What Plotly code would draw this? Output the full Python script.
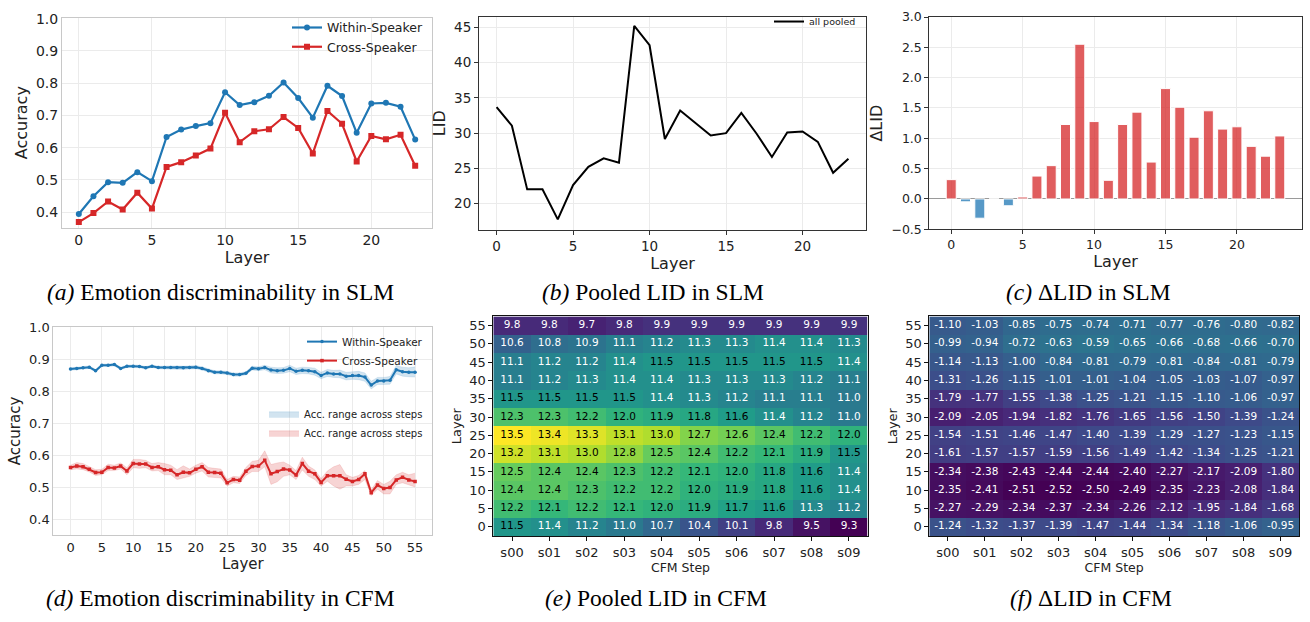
import plotly.graph_objects as go

# ---------------- data ----------------
layers_slm = list(range(24))
within_slm = [0.394, 0.449, 0.493, 0.491, 0.524, 0.496, 0.633, 0.656, 0.667, 0.676,
              0.772, 0.732, 0.741, 0.761, 0.802, 0.754, 0.693, 0.792, 0.760, 0.646,
              0.737, 0.739, 0.727, 0.625]
cross_slm = [0.369, 0.397, 0.433, 0.408, 0.460, 0.411, 0.540, 0.555, 0.576, 0.597,
             0.708, 0.617, 0.651, 0.657, 0.695, 0.661, 0.582, 0.714, 0.674, 0.557,
             0.636, 0.626, 0.640, 0.544]
lid_slm = [33.68, 31.04, 22.0, 22.0, 17.74, 22.6, 25.2, 26.4, 25.8, 45.2,
           42.46, 29.15, 33.2, 31.46, 29.66, 29.98, 32.85, 29.9, 26.6, 30.07,
           30.21, 28.74, 24.35, 26.34]
dlid_slm = [0.318, -0.048, -0.318, 0.0, -0.113, 0.032, 0.377, 0.549, 1.228, 2.552,
            1.276, 0.307, 1.228, 1.432, 0.608, 1.820, 1.513, 1.018, 1.454, 1.152,
            1.190, 0.867, 0.705, 1.039]

layers_cfm = list(range(56))
within_cfm = [0.870, 0.872, 0.874, 0.876, 0.865, 0.882, 0.882, 0.884, 0.872, 0.879,
              0.879, 0.878, 0.874, 0.879, 0.875, 0.875, 0.875, 0.875, 0.874, 0.875,
              0.876, 0.872, 0.865, 0.860, 0.860, 0.858, 0.853, 0.853, 0.857, 0.873,
              0.871, 0.875, 0.867, 0.865, 0.866, 0.872, 0.863, 0.866, 0.865, 0.862,
              0.850, 0.858, 0.855, 0.855, 0.848, 0.850, 0.850, 0.845, 0.820, 0.833,
              0.833, 0.835, 0.868, 0.862, 0.860, 0.860]
within_cfm_lo = [0.866, 0.868, 0.870, 0.872, 0.861, 0.878, 0.878, 0.880, 0.868, 0.875,
                 0.875, 0.874, 0.870, 0.875, 0.871, 0.870, 0.870, 0.870, 0.869, 0.870,
                 0.871, 0.867, 0.860, 0.855, 0.855, 0.853, 0.848, 0.848, 0.852, 0.867,
                 0.865, 0.868, 0.858, 0.856, 0.857, 0.862, 0.853, 0.856, 0.855, 0.851,
                 0.840, 0.847, 0.844, 0.843, 0.836, 0.838, 0.837, 0.832, 0.808, 0.822,
                 0.822, 0.823, 0.855, 0.848, 0.846, 0.845]
within_cfm_hi = [0.874, 0.876, 0.878, 0.880, 0.869, 0.886, 0.886, 0.888, 0.876, 0.883,
                 0.883, 0.882, 0.878, 0.883, 0.879, 0.880, 0.880, 0.880, 0.879, 0.880,
                 0.881, 0.877, 0.870, 0.865, 0.865, 0.863, 0.858, 0.858, 0.862, 0.879,
                 0.877, 0.882, 0.876, 0.874, 0.875, 0.882, 0.873, 0.876, 0.875, 0.873,
                 0.860, 0.869, 0.866, 0.867, 0.860, 0.862, 0.863, 0.858, 0.832, 0.844,
                 0.844, 0.847, 0.881, 0.876, 0.874, 0.877]
cross_cfm = [0.563, 0.567, 0.565, 0.557, 0.547, 0.548, 0.563, 0.561, 0.567, 0.552,
             0.575, 0.574, 0.574, 0.563, 0.565, 0.556, 0.554, 0.540, 0.548, 0.546,
             0.557, 0.565, 0.548, 0.547, 0.545, 0.515, 0.525, 0.523, 0.551, 0.566,
             0.567, 0.585, 0.543, 0.550, 0.558, 0.555, 0.539, 0.575, 0.551, 0.543,
             0.516, 0.537, 0.537, 0.537, 0.526, 0.519, 0.525, 0.543, 0.484, 0.508,
             0.497, 0.500, 0.524, 0.532, 0.524, 0.519]
cross_cfm_lo = [0.556, 0.558, 0.556, 0.549, 0.538, 0.540, 0.553, 0.553, 0.558, 0.540,
                0.562, 0.560, 0.562, 0.552, 0.553, 0.540, 0.540, 0.525, 0.530, 0.535,
                0.545, 0.552, 0.533, 0.532, 0.530, 0.505, 0.515, 0.513, 0.538, 0.550,
                0.550, 0.565, 0.510, 0.518, 0.535, 0.540, 0.525, 0.555, 0.535, 0.525,
                0.505, 0.520, 0.505, 0.495, 0.505, 0.505, 0.510, 0.525, 0.475, 0.495,
                0.480, 0.480, 0.510, 0.515, 0.508, 0.502]
cross_cfm_hi = [0.570, 0.578, 0.575, 0.566, 0.556, 0.557, 0.573, 0.570, 0.577, 0.562,
                0.588, 0.588, 0.585, 0.575, 0.578, 0.575, 0.570, 0.556, 0.568, 0.558,
                0.570, 0.578, 0.563, 0.560, 0.558, 0.525, 0.535, 0.533, 0.563, 0.582,
                0.585, 0.615, 0.572, 0.577, 0.580, 0.570, 0.553, 0.595, 0.567, 0.555,
                0.528, 0.552, 0.565, 0.572, 0.540, 0.532, 0.538, 0.553, 0.493, 0.522,
                0.510, 0.520, 0.540, 0.548, 0.540, 0.545]

steps = ["s00", "s01", "s02", "s03", "s04", "s05", "s06", "s07", "s08", "s09"]
hm_layers = [0, 5, 10, 15, 20, 25, 30, 35, 40, 45, 50, 55]
lid_cfm = [
    [11.5, 11.4, 11.2, 11.0, 10.7, 10.4, 10.1, 9.8, 9.5, 9.3],
    [12.2, 12.1, 12.2, 12.1, 12.0, 11.9, 11.7, 11.6, 11.3, 11.2],
    [12.4, 12.4, 12.3, 12.2, 12.2, 12.0, 11.9, 11.8, 11.6, 11.4],
    [12.5, 12.4, 12.4, 12.3, 12.2, 12.1, 12.0, 11.8, 11.6, 11.4],
    [13.2, 13.1, 13.0, 12.8, 12.5, 12.4, 12.2, 12.1, 11.9, 11.5],
    [13.5, 13.4, 13.3, 13.1, 13.0, 12.7, 12.6, 12.4, 12.2, 12.0],
    [12.3, 12.3, 12.2, 12.0, 11.9, 11.8, 11.6, 11.4, 11.2, 11.0],
    [11.5, 11.5, 11.5, 11.5, 11.4, 11.3, 11.2, 11.1, 11.1, 11.0],
    [11.1, 11.2, 11.3, 11.4, 11.4, 11.3, 11.3, 11.3, 11.2, 11.1],
    [11.1, 11.2, 11.2, 11.4, 11.5, 11.5, 11.5, 11.5, 11.5, 11.4],
    [10.6, 10.8, 10.9, 11.1, 11.2, 11.3, 11.3, 11.4, 11.4, 11.3],
    [9.8, 9.8, 9.7, 9.8, 9.9, 9.9, 9.9, 9.9, 9.9, 9.9],
]
dlid_cfm = [
    [-1.24, -1.32, -1.37, -1.39, -1.47, -1.44, -1.34, -1.18, -1.06, -0.95],
    [-2.27, -2.29, -2.34, -2.37, -2.34, -2.26, -2.12, -1.95, -1.84, -1.68],
    [-2.35, -2.41, -2.51, -2.52, -2.50, -2.49, -2.35, -2.23, -2.08, -1.84],
    [-2.34, -2.38, -2.43, -2.44, -2.44, -2.40, -2.27, -2.17, -2.09, -1.80],
    [-1.61, -1.57, -1.57, -1.59, -1.56, -1.49, -1.42, -1.34, -1.25, -1.21],
    [-1.54, -1.51, -1.46, -1.47, -1.40, -1.39, -1.29, -1.27, -1.23, -1.15],
    [-2.09, -2.05, -1.94, -1.82, -1.76, -1.65, -1.56, -1.50, -1.39, -1.24],
    [-1.79, -1.77, -1.55, -1.38, -1.25, -1.21, -1.15, -1.10, -1.06, -0.97],
    [-1.31, -1.26, -1.15, -1.01, -1.01, -1.04, -1.05, -1.03, -1.07, -0.97],
    [-1.14, -1.13, -1.00, -0.84, -0.81, -0.79, -0.81, -0.84, -0.81, -0.79],
    [-0.99, -0.94, -0.72, -0.63, -0.59, -0.65, -0.66, -0.68, -0.66, -0.70],
    [-1.10, -1.03, -0.85, -0.75, -0.74, -0.71, -0.77, -0.76, -0.80, -0.82],
]

captions = [
    "<i>(a)</i> Emotion discriminability in SLM",
    "<i>(b)</i> Pooled LID in SLM",
    "<i>(c)</i> \u0394LID in SLM",
    "<i>(d)</i> Emotion discriminability in CFM",
    "<i>(e)</i> Pooled LID in CFM",
    "<i>(f)</i> \u0394LID in CFM",
]

BLUE = "#1f77b4"
RED = "#d62728"
FONT = "DejaVu Sans"
W, H = 1310, 622

fig = go.Figure()

# (a)
fig.add_trace(go.Scatter(x=layers_slm, y=within_slm, mode="lines+markers", name="Within-Speaker",
                         line=dict(color=BLUE, width=2.2), marker=dict(symbol="circle", size=6, color=BLUE),
                         xaxis="x", yaxis="y", legend="legend"))
fig.add_trace(go.Scatter(x=layers_slm, y=cross_slm, mode="lines+markers", name="Cross-Speaker",
                         line=dict(color=RED, width=2.2), marker=dict(symbol="square", size=6, color=RED),
                         xaxis="x", yaxis="y", legend="legend"))
# (b)
fig.add_trace(go.Scatter(x=layers_slm, y=lid_slm, mode="lines", name="all pooled",
                         line=dict(color="black", width=2), xaxis="x2", yaxis="y2", legend="legend2"))
# (c)
bar_colors = ["rgba(214,39,40,0.75)" if v >= 0 else "rgba(31,119,180,0.75)" for v in dlid_slm]
fig.add_trace(go.Bar(x=layers_slm, y=dlid_slm, width=0.7, marker=dict(color=bar_colors, line=dict(color="white", width=1)),
                     showlegend=False, xaxis="x3", yaxis="y3"))
# (d)
fig.add_trace(go.Scatter(x=layers_cfm, y=within_cfm_hi, mode="lines", line=dict(width=0.5, color="rgba(31,119,180,0.25)"),
                         showlegend=False, xaxis="x4", yaxis="y4", hoverinfo="skip"))
fig.add_trace(go.Scatter(x=layers_cfm, y=within_cfm_lo, mode="lines", fill="tonexty", fillcolor="rgba(31,119,180,0.2)",
                         line=dict(width=0.5, color="rgba(31,119,180,0.25)"), name="Acc. range across steps",
                         xaxis="x4", yaxis="y4", legend="legend4"))
fig.add_trace(go.Scatter(x=layers_cfm, y=cross_cfm_hi, mode="lines", line=dict(width=0.5, color="rgba(214,39,40,0.25)"),
                         showlegend=False, xaxis="x4", yaxis="y4", hoverinfo="skip"))
fig.add_trace(go.Scatter(x=layers_cfm, y=cross_cfm_lo, mode="lines", fill="tonexty", fillcolor="rgba(214,39,40,0.2)",
                         line=dict(width=0.5, color="rgba(214,39,40,0.25)"), name="Acc. range across steps",
                         xaxis="x4", yaxis="y4", legend="legend4"))
fig.add_trace(go.Scatter(x=layers_cfm, y=within_cfm, mode="lines+markers", name="Within-Speaker",
                         line=dict(color=BLUE, width=2), marker=dict(symbol="circle", size=3.5, color=BLUE),
                         xaxis="x4", yaxis="y4", legend="legend3"))
fig.add_trace(go.Scatter(x=layers_cfm, y=cross_cfm, mode="lines+markers", name="Cross-Speaker",
                         line=dict(color=RED, width=2), marker=dict(symbol="square", size=3.5, color=RED),
                         xaxis="x4", yaxis="y4", legend="legend3"))

# (e) heatmap
fig.add_trace(go.Heatmap(x=steps, y=hm_layers, z=lid_cfm, colorscale="Viridis", zmin=9.3, zmax=13.5,
                         showscale=False, xgap=0, ygap=0, xaxis="x5", yaxis="y5"))
tx, ty, tt, tc = [], [], [], []
for i, L in enumerate(hm_layers):
    for j, s in enumerate(steps):
        v = lid_cfm[i][j]
        tx.append(s); ty.append(L); tt.append(f"{v:.1f}")
        tc.append("black" if v >= 11.45 else "white")
fig.add_trace(go.Scatter(x=tx, y=ty, text=tt, mode="text", textfont=dict(color=tc, size=10.5, family=FONT),
                         showlegend=False, xaxis="x5", yaxis="y5", hoverinfo="skip"))
# (f) heatmap
fig.add_trace(go.Heatmap(x=steps, y=hm_layers, z=dlid_cfm, colorscale="Viridis", zmin=-2.52, zmax=2.52,
                         showscale=False, xaxis="x6", yaxis="y6"))
fx, fy, ft = [], [], []
for i, L in enumerate(hm_layers):
    for j, s in enumerate(steps):
        fx.append(s); fy.append(L); ft.append(f"{dlid_cfm[i][j]:.2f}")
fig.add_trace(go.Scatter(x=fx, y=fy, text=ft, mode="text", textfont=dict(color="white", size=10.5, family=FONT),
                         showlegend=False, xaxis="x6", yaxis="y6", hoverinfo="skip"))


def px_dom_x(a, b):
    return [a / W, b / W]


def px_dom_y(top, bottom):
    return [1 - bottom / H, 1 - top / H]


GRID = "#ebebeb"
TICKC = "#222222"

def ax(domain, anchor, rng, title, tickfont, titlefont, linecolor, grid=True, ticks="", **kw):
    d = dict(domain=domain, anchor=anchor, range=rng, showline=True, mirror=True, linecolor=linecolor,
             linewidth=1, showgrid=grid, gridcolor=GRID, gridwidth=1, zeroline=False,
             ticks=ticks, ticklen=4, tickcolor=linecolor,
             tickfont=dict(family=FONT, size=tickfont, color=TICKC),
             title=dict(text=title, font=dict(family=FONT, size=titlefont, color=TICKC), standoff=4))
    d.update(kw)
    return d

lay = dict(width=W, height=H, margin=dict(l=0, r=0, t=0, b=0), plot_bgcolor="white", paper_bgcolor="white",
           font=dict(family=FONT), autosize=False)

# (a)
lay["xaxis"] = ax(px_dom_x(62, 432), "y", [-1.15, 24.15], "Layer", 14, 16, "#c8c8c8", tickvals=[0, 5, 10, 15, 20])
lay["yaxis"] = ax(px_dom_y(10, 225), "x", [0.352, 1.003], "Accuracy", 14, 16, "#c8c8c8", dtick=0.1, tick0=0, tickformat=".1f")
# (b)
lay["xaxis2"] = ax(px_dom_x(479, 866), "y2", [-1.15, 24.15], "Layer", 13.5, 16, "#333333", ticks="outside", tickvals=[0, 5, 10, 15, 20])
lay["yaxis2"] = ax(px_dom_y(9, 227), "x2", [16.3, 46.5], "LID", 13.5, 16, "#333333", ticks="outside", dtick=5, tick0=0)
# (c)
lay["xaxis3"] = ax(px_dom_x(929.3, 1301.7), "y3", [-1.535, 24.535], "Layer", 12.5, 16, "#333333", ticks="outside", tickvals=[0, 5, 10, 15, 20])
lay["yaxis3"] = ax(px_dom_y(9.3, 226.7), "x3", [-0.5, 3.0], "\u0394LID", 12.5, 16, "#333333", ticks="outside", dtick=0.5, tick0=0,
                   tickformat=".1f", zeroline=True, zerolinecolor="#9a9a9a", zerolinewidth=1.2)
# (d)
lay["xaxis4"] = ax(px_dom_x(53.3, 432.3), "y4", [-2.75, 57.75], "Layer", 13, 15, "#c8c8c8", tickvals=list(range(0, 56, 5)))
lay["yaxis4"] = ax(px_dom_y(326.7, 540), "x4", [0.352, 1.002], "Accuracy", 13, 15, "#c8c8c8", dtick=0.1, tick0=0, tickformat=".1f")
# (e)
lay["xaxis5"] = ax(px_dom_x(493.3, 867.7), "y5", None, "CFM Step", 13, 12.5, "#111111", grid=False, ticks="outside")
lay["yaxis5"] = ax(px_dom_y(316, 541), "x5", [-2.5, 57.5], "Layer", 13, 13, "#111111", grid=False, ticks="outside",
                   tickvals=hm_layers)
# (f)
lay["xaxis6"] = ax(px_dom_x(929.3, 1299), "y6", None, "CFM Step", 13, 12.5, "#111111", grid=False, ticks="outside")
lay["yaxis6"] = ax(px_dom_y(316, 541), "x6", [-2.5, 57.5], "Layer", 13, 13, "#111111", grid=False, ticks="outside",
                   tickvals=hm_layers)
for k in ["xaxis5", "xaxis6"]:
    lay[k].pop("range")

legend_common = dict(bgcolor="rgba(0,0,0,0)", borderwidth=0, xanchor="right", yanchor="top",
                     tracegroupgap=0, traceorder="normal", itemwidth=30)
lay["legend"] = dict(legend_common, x=428 / W, y=1 - 5 / H, font=dict(family=FONT, size=12.5, color=TICKC))
lay["legend2"] = dict(legend_common, x=861 / W, y=1 + 1 / H, font=dict(family=FONT, size=9.5, color=TICKC))
lay["legend3"] = dict(legend_common, x=428 / W, y=1 - 327 / H, font=dict(family=FONT, size=10.5, color=TICKC))
lay["legend4"] = dict(legend_common, x=428 / W, y=1 - 401 / H, font=dict(family=FONT, size=10, color=TICKC))

centers = [(220, 291), (653, 291), (1088, 291), (220, 605), (656, 605), (1091, 605)]
ann = []
for (cx, cy), txt in zip(centers, captions):
    ann.append(dict(text=txt, x=cx / W, y=1 - cy / H, xref="paper", yref="paper", showarrow=False,
                    xanchor="center", yanchor="middle",
                    font=dict(family="Liberation Serif", size=23.5, color="black")))
lay["annotations"] = ann

fig.update_layout(**lay)
fig.write_html("out.html", config={"displayModeBar": False},
               post_script="document.body.style.margin='0';document.body.style.overflow='hidden';")
